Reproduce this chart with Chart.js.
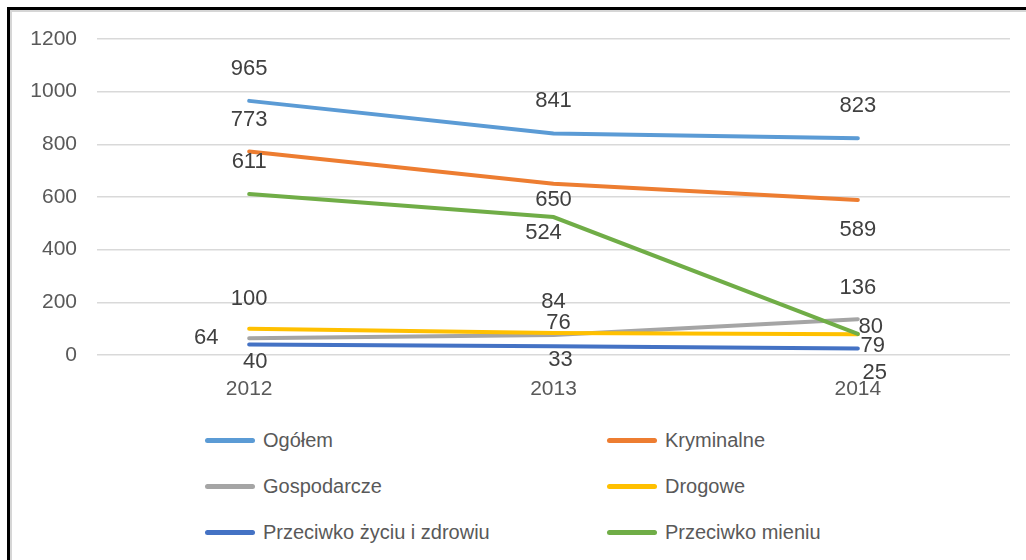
<!DOCTYPE html>
<html>
<head>
<meta charset="utf-8">
<script src="https://cdn.jsdelivr.net/npm/chart.js@4/dist/chart.umd.min.js"></script>
<style>
  html, body { margin: 0; padding: 0; background: #fff; }
  body { width: 1026px; height: 560px; position: relative; overflow: hidden; font-family: "Liberation Sans", Arial, sans-serif; }
  #frame { position: absolute; left: 7px; top: 7px; width: 1030px; height: 560px;
           border-top: 3px solid #000; border-left: 3px solid #000; box-shadow: inset 2px 2px 0 #d6d6d6; }
  #wrap { position: absolute; left: 0; top: 0; width: 1026px; height: 410px; }
  #legend { position: absolute; left: 205px; top: 426px; display: grid;
            grid-template-columns: 402px 300px; row-gap: 17px; }
  .item { display: flex; align-items: center; height: 29px; font-size: 20px; color: #595959; }
  .item span.mark { width: 50px; height: 5px; border-radius: 3px; margin-right: 8px; }
</style>
</head>
<body>
<div id="frame"></div>
<div id="wrap"><canvas id="chartCrimes"></canvas></div>
<div id="legend"></div>
<script>
const years = ['2012', '2013', '2014'];
const seriesNames = ['Ogółem', 'Kryminalne', 'Gospodarcze', 'Drogowe', 'Przeciwko życiu i zdrowiu', 'Przeciwko mieniu'];
const ogolem = [965, 841, 823];
const kryminalne = [773, 650, 589];
const gospodarcze = [64, 76, 136];
const drogowe = [100, 84, 79];
const zycie = [40, 33, 25];
const mienie = [611, 524, 80];
const yTicks = [0, 200, 400, 600, 800, 1000, 1200];

const colors = ['#5B9BD5', '#ED7D31', '#A5A5A5', '#FFC000', '#4472C4', '#70AD47'];
const values = [ogolem, kryminalne, gospodarcze, drogowe, zycie, mienie];
// where each value label sits relative to its point
const labelShift = [
    [[0, -32], [0, -33], [0, -32]],
    [[0, -32], [0, 16], [0, 30]],
    [[-43, 0], [5, -12], [0, -31]],
    [[0, -30], [0, -31], [15, 12]],
    [[6, 17], [7, 14], [17, 25]],
    [[0, -32], [-10, 16], [13, -7]]
];

const valueLabels = {
    id: 'valueLabels',
    afterDatasetsDraw(chart) {
        const ctx = chart.ctx;
        ctx.save();
        ctx.font = '22px "Liberation Sans"';
        ctx.fillStyle = '#404040';
        ctx.textAlign = 'center';
        ctx.textBaseline = 'middle';
        chart.data.datasets.forEach((ds, i) => {
            chart.getDatasetMeta(i).data.forEach((pt, j) => {
                const s = ds.labelShift[j];
                ctx.fillText(ds.data[j], pt.x + s[0], pt.y + s[1]);
            });
        });
        ctx.restore();
    }
};

const ctx1 = document.getElementById('chartCrimes').getContext('2d');
const chartCrimes = new Chart(ctx1, {
    type: 'line',
    data: {
        labels: years,
        datasets: seriesNames.map((name, i) => ({
            label: name,
            data: values[i],
            borderColor: colors[i],
            backgroundColor: colors[i],
            borderWidth: 4,
            borderCapStyle: 'round',
            tension: 0,
            pointRadius: 0,
            order: seriesNames.length - i,
            labelShift: labelShift[i]
        }))
    },
    options: {
        responsive: true,
        maintainAspectRatio: false,
        animation: false,
        layout: { padding: { top: 39, right: 16, left: 0, bottom: 0 } },
        plugins: { legend: { display: false }, tooltip: { enabled: false } },
        scales: {
            x: {
                offset: true,
                grid: { display: false },
                border: { display: false },
                ticks: { color: '#595959', font: { family: 'Liberation Sans', size: 21 }, padding: 14 },
                afterFit: (s) => { s.height = 55; }
            },
            y: {
                min: 0,
                max: 1200,
                afterBuildTicks: (s) => { s.ticks = yTicks.map(v => ({ value: v })); },
                grid: { color: '#D9D9D9', lineWidth: 1.5, drawTicks: false },
                border: { display: false },
                ticks: { color: '#595959', font: { family: 'Liberation Sans', size: 21 }, padding: 20,
                         callback: (v) => String(v) },
                afterFit: (s) => { s.width = 97; }
            }
        }
    },
    plugins: [valueLabels]
});

const legend = document.getElementById('legend');
seriesNames.forEach((name, i) => {
    const item = document.createElement('div');
    item.className = 'item';
    item.innerHTML = '<span class="mark" style="background:' + colors[i] + '"></span>' + name;
    legend.appendChild(item);
});
</script>
</body>
</html>
